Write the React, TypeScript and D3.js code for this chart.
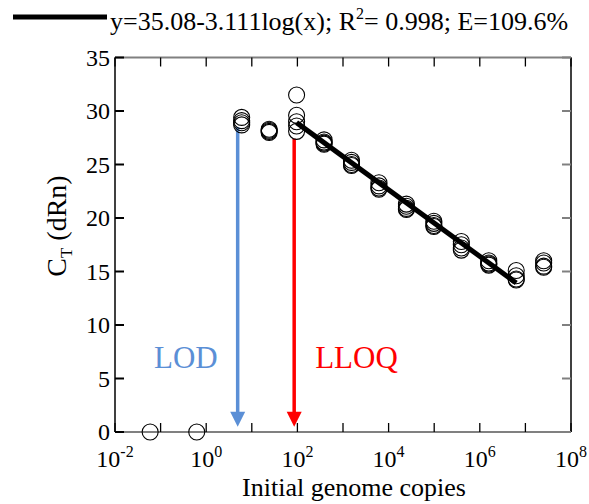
import React from 'react';
import * as d3 from 'd3';

// dilution series (4-fold) and replicate Ct values
const copies = [6, 24, 96, 384, 1536, 6144, 24576, 98304, 393216, 1572864, 6291456, 25165824];
const ctReplicates = [
  [29.4, 29.1, 28.9, 28.7],
  [28.3, 28.2, 28.0, 28.1],
  [31.5, 29.6, 29.0, 28.6, 28.1],
  [27.3, 27.1, 27.0, 26.9],
  [25.4, 25.2, 25.0, 24.9],
  [23.3, 23.0, 22.8, 22.7],
  [21.3, 21.1, 20.9, 20.8],
  [19.7, 19.5, 19.3, 19.2],
  [17.8, 17.5, 17.2, 17.0],
  [16.0, 15.8, 15.7, 15.6],
  [15.1, 14.6, 14.3, 14.2],
  [16.0, 15.8, 15.5, 15.4],
];
// non-detects plotted at Ct = 0
const nonDetectCopies = [0.059, 0.62];
const nonDetectCt = [0, 0];

const fitIntercept = 35.08;
const fitSlope = -3.111;
const fitRange = [96, 6291456];
const legendText = ['y=35.08-3.111log(x); R', '2', '= 0.998; E=109.6%'];

const limitLabels = ['LOD', 'LLOQ'];
const limitCopies = [4.9, 85];
const limitTops = [28.5, 27.4];
const limitColors = ['#5b8fd6', '#ff0000'];

const yTicks = [0, 5, 10, 15, 20, 25, 30, 35];
const xTickExps = [-2, -1, 0, 1, 2, 3, 4, 5, 6, 7, 8];
const xLabelExps = [-2, 0, 2, 4, 6, 8];

const W = 589;
const H = 504;
const margin = { left: 115, right: 18, top: 57.5, bottom: 72 };
const font = "'Liberation Serif', 'DejaVu Serif', 'Times New Roman', Times, serif";

export default function App() {
  const x = d3.scaleLog().domain([1e-2, 1e8]).range([margin.left, W - margin.right]);
  const y = d3.scaleLinear().domain([0, 35]).range([H - margin.bottom, margin.top]);
  const x0 = margin.left, x1 = W - margin.right, y0 = H - margin.bottom, y1 = margin.top;

  const fitLine = d3.line<number>()
    .x(d => x(d))
    .y(d => y(fitIntercept + fitSlope * Math.log10(d)));

  const points: { c: number; ct: number }[] = [];
  copies.forEach((c, i) => ctReplicates[i].forEach(ct => points.push({ c, ct })));
  nonDetectCopies.forEach((c, i) => points.push({ c, ct: nonDetectCt[i] }));

  const tickLen = 9;

  return (
    <svg width={W} height={H} style={{ position: 'absolute', left: 0, top: 0, background: '#fff', fontFamily: font }}>
      {/* legend */}
      <line x1={13} x2={107} y1={17} y2={17} stroke="#000" strokeWidth={5} />
      <text x={110} y={30} fontSize={26}>
        {legendText[0]}
        <tspan fontSize={16} dy={-11}>{legendText[1]}</tspan>
        <tspan dy={11}>{legendText[2]}</tspan>
      </text>

      {/* frame */}
      <line x1={x0} x2={x1} y1={y1} y2={y1} stroke="#808080" strokeWidth={2} />
      <line x1={x0} x2={x1} y1={y0} y2={y0} stroke="#808080" strokeWidth={2} />
      <line x1={x0} x2={x0} y1={y1} y2={y0} stroke="#000" strokeWidth={1.5} />
      <line x1={x1} x2={x1} y1={y1} y2={y0} stroke="#000" strokeWidth={1.5} />

      {/* x ticks */}
      {xTickExps.map(e => (
        <g key={'xt' + e}>
          <line x1={x(10 ** e)} x2={x(10 ** e)} y1={y0} y2={y0 - tickLen} stroke="#000" strokeWidth={1.3} />
          <line x1={x(10 ** e)} x2={x(10 ** e)} y1={y1} y2={y1 + tickLen} stroke="#000" strokeWidth={1.3} />
        </g>
      ))}
      {xLabelExps.map(e => (
        <text key={'xl' + e} x={x(10 ** e)} y={466.5} fontSize={24} textAnchor="middle">
          10<tspan fontSize={16} dy={-10}>{e}</tspan>
        </text>
      ))}

      {/* y ticks */}
      {yTicks.map(t => (
        <g key={'yt' + t}>
          <line x1={x0} x2={x0 + tickLen} y1={y(t)} y2={y(t)} stroke="#000" strokeWidth={2} />
          <line x1={x1} x2={x1 - tickLen} y1={y(t)} y2={y(t)} stroke="#808080" strokeWidth={2} />
          <text x={110} y={y(t)} fontSize={24} textAnchor="end" dominantBaseline="central">{t}</text>
        </g>
      ))}

      {/* axis titles */}
      <text x={354} y={496} fontSize={26} textAnchor="middle">Initial genome copies</text>
      <text transform="translate(66,226) rotate(-90)" fontSize={28} textAnchor="middle">
        C<tspan fontSize={17} dy={6}>T</tspan><tspan dy={-6}> (dRn)</tspan>
      </text>

      {/* LOD / LLOQ arrows */}
      {limitLabels.map((lab, i) => {
        const ax = x(limitCopies[i]);
        const tip = y(0.5);
        const head = 15;
        return (
          <g key={lab}>
            <line x1={ax} x2={ax} y1={y(limitTops[i])} y2={tip - head + 2} stroke={limitColors[i]} strokeWidth={3.5} />
            <path d={`M${ax - 7.5},${tip - head}L${ax + 7.5},${tip - head}L${ax},${tip}Z`} fill={limitColors[i]} />
            <text
              x={i === 0 ? ax - 20 : ax + 21}
              y={y(6)}
              fontSize={31}
              fill={limitColors[i]}
              textAnchor={i === 0 ? 'end' : 'start'}
            >{lab}</text>
          </g>
        );
      })}

      {/* replicate points */}
      {points.map((p, i) => (
        <circle key={i} cx={x(p.c)} cy={y(p.ct)} r={8} fill="none" stroke="#000" strokeWidth={1.1} />
      ))}

      {/* standard curve fit */}
      <path d={fitLine(fitRange) || ''} stroke="#000" strokeWidth={5} fill="none" />
    </svg>
  );
}
